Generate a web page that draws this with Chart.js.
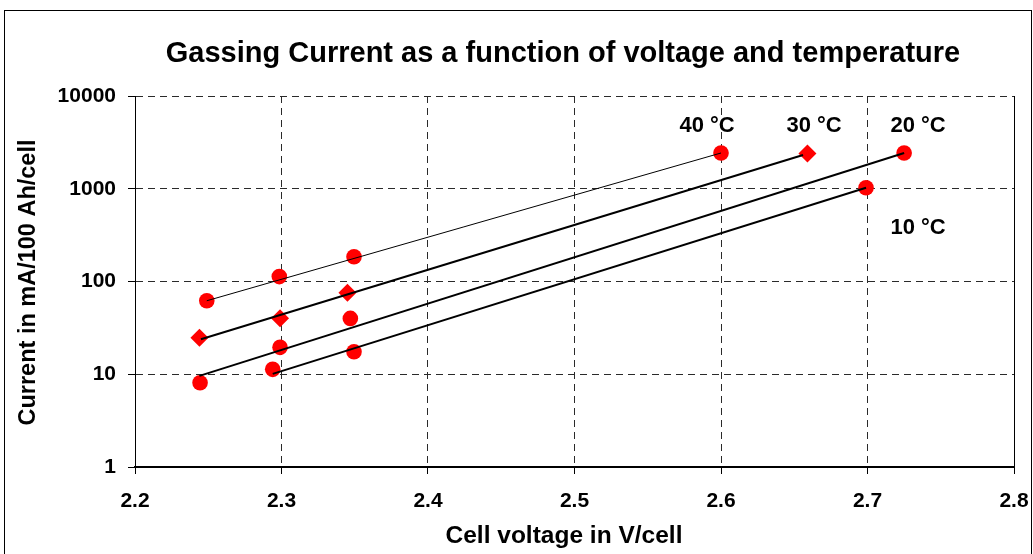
<!DOCTYPE html>
<html><head><meta charset="utf-8">
<script src="https://cdn.jsdelivr.net/npm/chart.js@4"></script>
<style>html,body{margin:0;padding:0;background:#fff;overflow:hidden}#wrap{width:1033px;height:554px}</style>
</head><body><div id="wrap"><canvas id="c" width="1033" height="554"></canvas></div>
<script>
// ---- data ----
const xTicks = [2.2, 2.3, 2.4, 2.5, 2.6, 2.7, 2.8];
const yTicks = [1, 10, 100, 1000, 10000];
const seriesNames = ['40 °C', '30 °C', '20 °C', '10 °C'];
// measured points [voltage, current]
const meas40 = [[2.249, 62], [2.2985, 113], [2.3495, 185], [2.600, 2430]];
const meas30 = [[2.244, 24.8], [2.299, 40.1], [2.345, 75.7], [2.659, 2400]];
const meas20 = [[2.2444, 8.1], [2.299, 19.5], [2.347, 40], [2.725, 2430]];
const meas10 = [[2.294, 11.3], [2.3495, 17.5], [2.699, 1026]];
// fitted lines [voltage, current]
const fit40 = [[2.249, 62], [2.600, 2430]];
const fit30 = [[2.245, 23.8], [2.656, 2312]];
const fit20 = [[2.244, 9.6], [2.725, 2430]];
const fit10 = [[2.294, 10.1], [2.699, 1026]];
// series label anchors [voltage, current]
const labelAnchors = [[2.5905, 4750], [2.6635, 4750], [2.7345, 4750], [2.7345, 377]];

const titleText = 'Gassing Current as a function of voltage and temperature';
const xTitle = 'Cell voltage in V/cell';
const yTitle = 'Current in mA/100 Ah/cell';

const FONT = '"Liberation Sans", Arial, sans-serif';
const toPts = a => a.map(p => ({x: p[0], y: p[1]}));

function lineDs(d, w) {
  return {type: 'scatter', data: toPts(d), showLine: true, borderColor: '#000', borderWidth: w,
          pointRadius: 0, pointHoverRadius: 0, fill: false, order: 0};
}
function markDs(d, style, r) {
  return {type: 'scatter', data: toPts(d), showLine: false, pointStyle: style, pointRadius: r,
          pointHoverRadius: r, backgroundColor: '#ff0000', borderColor: '#ff0000', borderWidth: 0, order: 1};
}

const decor = {
  id: 'decor',
  beforeDraw(chart) {
    const c = chart.ctx;
    c.save();
    c.fillStyle = '#fff'; c.fillRect(0, 0, chart.width, chart.height);
    c.strokeStyle = '#000'; c.lineWidth = 1;
    c.strokeRect(4.5, 10.5, 1027, 600);
    c.restore();
  },
  beforeDatasetsDraw(chart) {
    const {ctx, chartArea: a} = chart;
    ctx.save();
    ctx.strokeStyle = '#000'; ctx.lineWidth = 1;
    const rx = Math.round(a.right) + 0.5;
    ctx.beginPath(); ctx.moveTo(rx, a.top); ctx.lineTo(rx, a.bottom); ctx.stroke();
    ctx.restore();
  },
  afterDraw(chart) {
    const {ctx, scales} = chart;
    ctx.save();
    ctx.fillStyle = '#000';
    ctx.textAlign = 'center';
    ctx.textBaseline = 'alphabetic';
    ctx.font = 'bold 29px ' + FONT;
    ctx.fillText(titleText, 563, 62);
    ctx.font = 'bold 24.5px ' + FONT;
    ctx.fillText(xTitle, 564, 543);
    ctx.save();
    ctx.translate(29, 282.5);
    ctx.rotate(-Math.PI / 2);
    ctx.textBaseline = 'middle';
    ctx.font = 'bold 23.5px ' + FONT;
    ctx.fillText(yTitle, 0, 0);
    ctx.restore();
    ctx.font = 'bold 22px ' + FONT;
    ctx.textBaseline = 'middle';
    seriesNames.forEach((n, i) => {
      const px = scales.x.getPixelForValue(labelAnchors[i][0]);
      const py = scales.y.getPixelForValue(labelAnchors[i][1]);
      ctx.fillText(n, px, py);
    });
    ctx.restore();
  }
};

const tickFont = {family: FONT, size: 21, weight: 'bold'};

new Chart(document.getElementById('c'), {
  type: 'scatter',
  data: {
    datasets: [
      lineDs(fit40, 1), lineDs(fit30, 2), lineDs(fit20, 2), lineDs(fit10, 2),
      markDs(meas40, 'circle', 7.8), markDs(meas30, 'rectRot', 9),
      markDs(meas20, 'circle', 7.8), markDs(meas10, 'circle', 7.8)
    ]
  },
  options: {
    responsive: false, animation: false, devicePixelRatio: 1,
    layout: {padding: {top: 96, right: 19, left: 0, bottom: 0}},
    plugins: {legend: {display: false}, tooltip: {enabled: false}, title: {display: false}},
    scales: {
      x: {
        type: 'linear', min: 2.2, max: 2.8,
        afterBuildTicks: s => { s.ticks = xTicks.map(v => ({value: v})); },
        afterFit: s => { s.height = 87; s.paddingLeft = 0; s.paddingRight = 0; },
        ticks: {callback: v => Number(v).toFixed(1), font: tickFont, color: '#000', padding: 15,
                maxRotation: 0, autoSkip: false},
        grid: {color: '#2a2a2a', lineWidth: 1, tickLength: 7, tickColor: '#000', tickWidth: 1, tickBorderDash: []},
        border: {color: '#000', width: 2, dash: [7, 5]}
      },
      y: {
        type: 'logarithmic', min: 1, max: 10000,
        afterBuildTicks: s => { s.ticks = yTicks.map(v => ({value: v})); },
        afterFit: s => { s.width = 135; s.paddingTop = 0; s.paddingBottom = 0; },
        ticks: {callback: v => String(v), font: tickFont, color: '#000', padding: 12, autoSkip: false},
        grid: {color: '#2a2a2a', lineWidth: 1, tickLength: 7, tickColor: '#000', tickWidth: 1, tickBorderDash: []},
        border: {color: '#000', width: 1, dash: [7, 5]}
      }
    }
  },
  plugins: [decor]
});
</script>
</body></html>
